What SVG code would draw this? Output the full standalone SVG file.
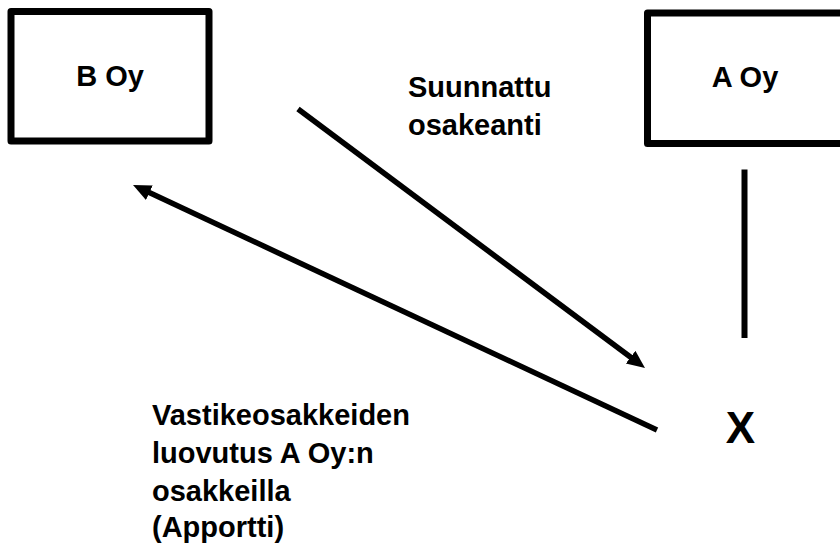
<svg xmlns="http://www.w3.org/2000/svg" width="840" height="544" viewBox="0 0 840 544">
  <style>
    .box { fill: #ffffff; stroke: #000000; stroke-width: 7; stroke-linejoin: round; }
    .lbl { font-family: "Liberation Sans", Arial, sans-serif; font-weight: bold; font-size: 29px; fill: #000000; }
    .mid { text-anchor: middle; }
    .conn { stroke: #000000; stroke-width: 5.5; fill: none; }
  </style>
  <defs>
    <marker id="head" markerUnits="userSpaceOnUse" markerWidth="20" markerHeight="18" refX="6" refY="8" orient="auto">
      <path d="M0,0 L18,8 L0,16 Z" fill="#000000"/>
    </marker>
  </defs>
  <rect width="840" height="544" fill="#ffffff"/>

  <g id="node-b-oy">
    <rect class="box" x="11" y="11.5" width="198" height="129.5"/>
    <text class="lbl mid" x="110" y="86">B Oy</text>
  </g>

  <g id="node-a-oy">
    <rect class="box" x="647.5" y="13" width="210" height="130.5"/>
    <text class="lbl mid" x="745" y="87">A Oy</text>
  </g>

  <g id="node-x">
    <text class="lbl mid" x="740.5" y="443" style="font-size:44px">X</text>
  </g>

  <g id="label-osakeanti">
    <text class="lbl" x="408" y="97">Suunnattu</text>
    <text class="lbl" x="408" y="135">osakeanti</text>
  </g>

  <g id="label-apportti">
    <text class="lbl" x="152" y="425">Vastikeosakkeiden</text>
    <text class="lbl" x="152" y="463">luovutus A Oy:n</text>
    <text class="lbl" x="152" y="501">osakkeilla</text>
    <text class="lbl" x="152" y="537">(Apportti)</text>
  </g>

  <g id="connectors">
    <line class="conn" x1="298" y1="109" x2="635.4" y2="360.8" marker-end="url(#head)"/>
    <line class="conn" x1="657" y1="430" x2="143.9" y2="190.1" marker-end="url(#head)"/>
    <line class="conn" x1="744.5" y1="169.5" x2="744.5" y2="338" style="stroke-width:6"/>
  </g>
</svg>
